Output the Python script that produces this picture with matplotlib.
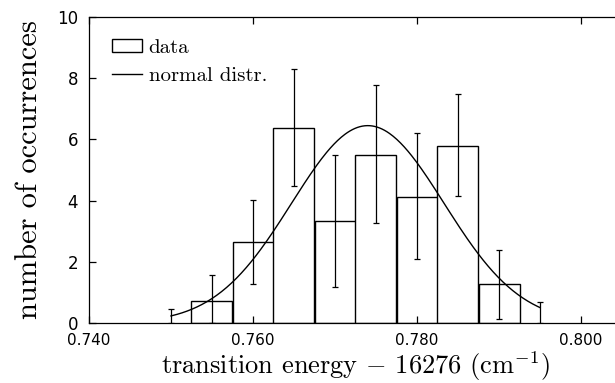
import numpy as np
import matplotlib
matplotlib.use('Agg')
import matplotlib.pyplot as plt

plt.rcParams['mathtext.fontset'] = 'cm'
plt.rcParams['axes.unicode_minus'] = False

# histogram of transition energies (bin centres, heights, error bar limits)
centers = [0.750, 0.755, 0.760, 0.765, 0.770, 0.775, 0.780, 0.785, 0.790, 0.795]
counts = [0.0, 0.72, 2.66, 6.37, 3.33, 5.49, 4.13, 5.80, 1.26, 0.0]
err_lo = [0.0, 0.0, 1.27, 4.48, 1.18, 3.28, 2.09, 4.15, 0.13, 0.0]
err_hi = [0.46, 1.57, 4.02, 8.30, 5.49, 7.79, 6.20, 7.47, 2.39, 0.68]
bin_width = 0.005

# fitted normal distribution
mu = 0.7740
sigma = 0.0093
amp = 6.45
x_start, x_stop = 0.750, 0.795

xticks = [0.740, 0.760, 0.780, 0.800]
yticks = [0, 2, 4, 6, 8, 10]

fig = plt.figure(figsize=(6.15, 3.83), dpi=100)
ax = fig.add_axes([89 / 615, 60 / 383, 533 / 615, 306 / 383])

c = np.array(centers)
h = np.array(counts)
nz = h > 0
bars = ax.bar(c[nz], h[nz], width=bin_width, facecolor='white', edgecolor='black',
              linewidth=1.0)
ax.errorbar(centers, counts, yerr=[h - np.array(err_lo), np.array(err_hi) - h],
            fmt='none', ecolor='black', elinewidth=0.9, capsize=2.5, capthick=0.9)

xs = np.linspace(x_start, x_stop, 300)
line, = ax.plot(xs, amp * np.exp(-(xs - mu) ** 2 / (2 * sigma ** 2)), color='black',
                linewidth=1.0)

ax.set_xlim(0.740, 0.805)
ax.set_ylim(0, 10)
ax.set_xticks(xticks)
ax.set_xticklabels(['%.3f' % v for v in xticks])
ax.set_yticks(yticks)
ax.tick_params(direction='in', top=True, right=True, length=5, width=0.9)
ax.tick_params(axis='x', labelsize=11, pad=7)
ax.tick_params(axis='y', labelsize=12, pad=8)
for s in ax.spines.values():
    s.set_linewidth(0.9)

ax.set_xlabel(r'transition energy $-$ 16276 (cm$^{-1}$)', family='cmr10',
              fontsize=19)
ax.xaxis.set_label_coords(0.5, -0.086)
ax.set_ylabel('number of occurrences', family='cmr10', fontsize=22, labelpad=10)

ax.legend([bars, line], ['data', 'normal distr.'], loc='upper left',
          bbox_to_anchor=(0.02, 0.97), frameon=False,
          prop={'family': 'cmr10', 'size': 15},
          handlelength=1.45, handleheight=0.6, handletextpad=0.3,
          borderaxespad=0.2, labelspacing=0.5)

fig.savefig('out.png', dpi=100)
